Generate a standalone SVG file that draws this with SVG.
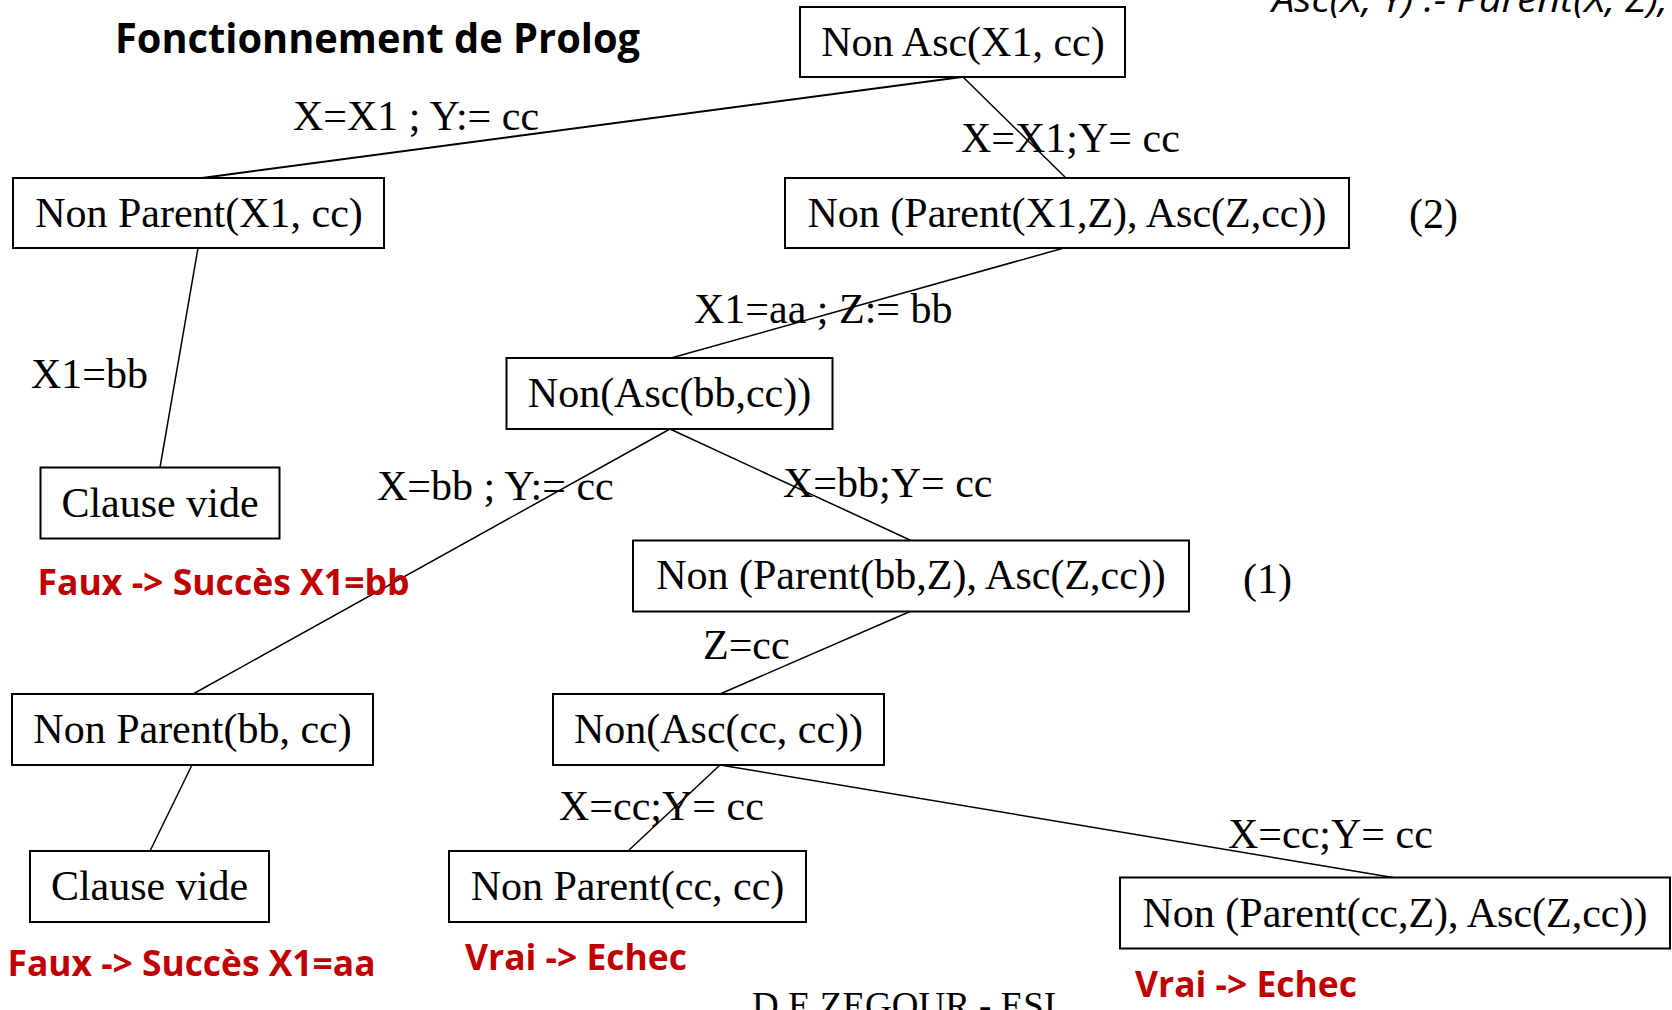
<svg xmlns="http://www.w3.org/2000/svg" width="1672" height="1010" viewBox="0 0 1672 1010">
<style>
.box{fill:#fff;stroke:#000;stroke-width:2}
.nt{font-family:"Liberation Serif","Times New Roman",serif;font-size:42px;fill:#000;text-anchor:middle}
.lb{font-family:"Liberation Serif","Times New Roman",serif;font-size:42px;fill:#000}
.red{font-family:"Open Sans","Noto Sans",sans-serif;font-weight:bold;font-size:36px;fill:#C00000}
.ttl{font-family:"Open Sans","Noto Sans",sans-serif;font-weight:bold;font-size:41px;fill:#000}
.it{font-family:"Open Sans","Noto Sans",sans-serif;font-style:italic;font-size:37px;fill:#000}
.ln{stroke:#000;stroke-width:1.5;fill:none}
</style>
<rect width="1672" height="1010" fill="#fff"/>
<text class="ttl" x="115" y="53" textLength="525" lengthAdjust="spacingAndGlyphs">Fonctionnement de Prolog</text>
<text class="it" x="1272" y="12" textLength="396" lengthAdjust="spacingAndGlyphs">Asc(X, Y) :- Parent(X, Z),</text>
<g id="connectors">
<line class="ln" x1="962" y1="77" x2="202" y2="178" style="stroke-width:2"/>
<line class="ln" x1="963" y1="77" x2="1066" y2="178"/>
<line class="ln" x1="198" y1="248" x2="160" y2="467.5"/>
<line class="ln" x1="1064" y1="248" x2="671" y2="358"/>
<line class="ln" x1="670" y1="429" x2="193" y2="694"/>
<line class="ln" x1="670" y1="429" x2="911" y2="540.5"/>
<line class="ln" x1="910" y1="611.5" x2="720" y2="694"/>
<line class="ln" x1="192" y1="765" x2="150" y2="851"/>
<line class="ln" x1="720" y1="765" x2="628" y2="851"/>
<line class="ln" x1="720" y1="765" x2="1393" y2="877.5"/>
</g>
<g id="edge-labels">
<text class="lb" x="293" y="130">X=X1 ; Y:= cc</text>
<text class="lb" x="961" y="152">X=X1;Y= cc</text>
<text class="lb" x="31" y="388">X1=bb</text>
<text class="lb" x="694" y="323">X1=aa ; Z:= bb</text>
<text class="lb" x="377" y="500">X=bb ; Y:= cc</text>
<text class="lb" x="783" y="497">X=bb;Y= cc</text>
<text class="lb" x="703" y="659">Z=cc</text>
<text class="lb" x="559" y="820">X=cc;Y= cc</text>
<text class="lb" x="1228" y="848">X=cc;Y= cc</text>
</g>
<g id="n-root"><rect class="box" x="800" y="7" width="325" height="70"/><text class="nt" x="963" y="56">Non Asc(X1, cc)</text></g>
<g id="n-parent-x1"><rect class="box" x="13" y="178" width="371" height="70"/><text class="nt" x="199" y="227">Non Parent(X1, cc)</text></g>
<g id="n-conj-x1"><rect class="box" x="785" y="178" width="564" height="70"/><text class="nt" x="1067" y="227">Non (Parent(X1,Z), Asc(Z,cc))</text></g>
<text class="lb" x="1409" y="228">(2)</text>
<g id="n-clause1"><rect class="box" x="40.5" y="467.5" width="239" height="71"/><text class="nt" x="160" y="517">Clause vide</text></g>
<g id="n-asc-bb"><rect class="box" x="506.5" y="358" width="326" height="71"/><text class="nt" x="669.5" y="407">Non(Asc(bb,cc))</text></g>
<g id="n-conj-bb"><rect class="box" x="633" y="540.5" width="556" height="71"/><text class="nt" x="911" y="589">Non (Parent(bb,Z), Asc(Z,cc))</text></g>
<text class="lb" x="1243" y="593">(1)</text>
<g id="n-parent-bb"><rect class="box" x="12" y="694" width="361" height="71"/><text class="nt" x="192.5" y="743">Non Parent(bb, cc)</text></g>
<g id="n-asc-cc"><rect class="box" x="553" y="694" width="331" height="71"/><text class="nt" x="718.5" y="743">Non(Asc(cc, cc))</text></g>
<g id="n-clause2"><rect class="box" x="30" y="851" width="239" height="71"/><text class="nt" x="149.5" y="900">Clause vide</text></g>
<g id="n-parent-cc"><rect class="box" x="449" y="851" width="357" height="71"/><text class="nt" x="627.5" y="900">Non Parent(cc, cc)</text></g>
<g id="n-conj-cc"><rect class="box" x="1120" y="877.5" width="550" height="71"/><text class="nt" x="1395" y="927">Non (Parent(cc,Z), Asc(Z,cc))</text></g>
<g id="results">
<text class="red" x="37.5" y="595" textLength="372" lengthAdjust="spacingAndGlyphs">Faux -&gt; Succès X1=bb</text>
<text class="red" x="7.5" y="976" textLength="368" lengthAdjust="spacingAndGlyphs">Faux -&gt; Succès X1=aa</text>
<text class="red" x="465" y="970" textLength="222" lengthAdjust="spacingAndGlyphs">Vrai -&gt; Echec</text>
<text class="red" x="1135" y="997" textLength="222" lengthAdjust="spacingAndGlyphs">Vrai -&gt; Echec</text>
</g>
<text class="lb" x="752" y="1018" style="font-size:37px">D.E ZEGOUR - ESI</text>
</svg>
